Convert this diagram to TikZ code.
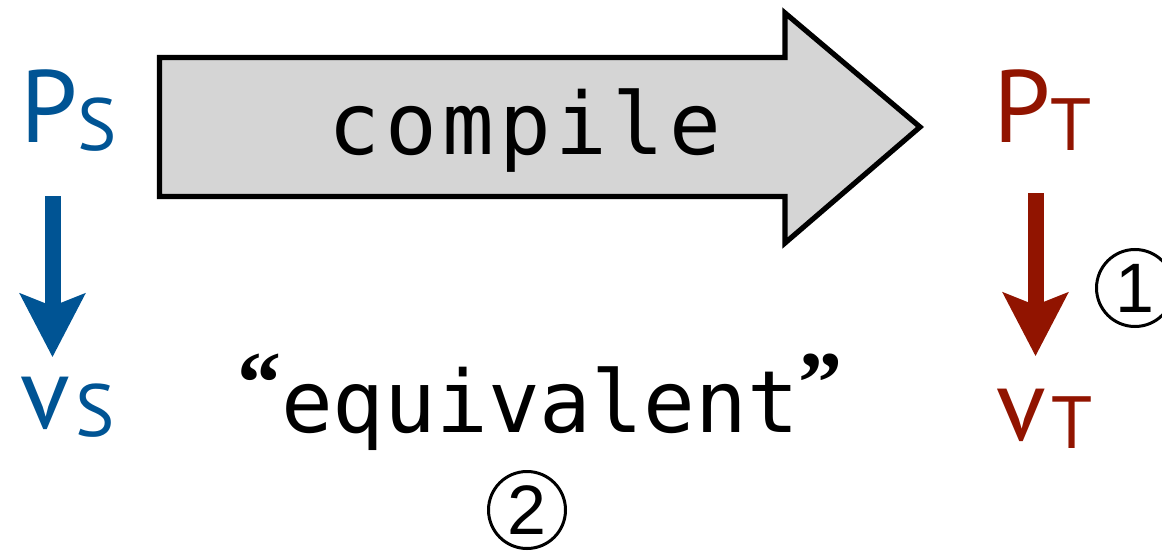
\documentclass[tikz,border=0pt]{standalone}
\usepackage{fontspec}
\setmainfont{PT Sans}
\newfontfamily\codefont{DejaVu Sans Mono}
\newfontfamily\quotefont{Liberation Serif}[UprightFont=*-Bold]
\newfontfamily\digitfont{Liberation Sans}
\usetikzlibrary{arrows.meta}

\definecolor{srcblue}{RGB}{0,84,148}
\definecolor{tgtred}{RGB}{145,20,0}
\definecolor{boxgray}{RGB}{213,213,213}

% program / value label with a lowered small subscript letter
\newcommand{\pvlabel}[3]{#1\kern#2\raisebox{-4pt}{\fontsize{37}{37}\selectfont #3}}
% curly quote in a heavier face
\newcommand{\bigquote}[1]{{\quotefont\fontsize{44}{44}\selectfont\raisebox{10pt}{#1}}}

\tikzset{
  varlabel/.style={inner sep=0pt, anchor=base west, font=\fontsize{51.4}{60}\selectfont},
  codetext/.style={inner sep=0pt, anchor=base, font=\codefont\fontsize{43}{50}\selectfont},
  circmark/.style={circle, draw=black, line width=1.5pt, minimum size=38.5pt,
    inner sep=0pt, font=\digitfont\fontsize{35}{35}\selectfont},
  evalarrow/.style={line width=8pt,
    -{Stealth[length=31.5pt, width=32pt, inset=6pt]}},
  bigarrow/.style={draw=black, fill=boxgray, line width=2.6pt, line join=miter},
}

\begin{document}
\begin{tikzpicture}[x=0.5pt, y=-0.5pt]
\useasboundingbox (0,0) rectangle (1162,551);

% compilation arrow
\draw[bigarrow] (159.5,57.5) -- (785,57.5) -- (785,13) -- (920,127)
  -- (785,243) -- (785,196.5) -- (159.5,196.5) -- cycle;
\node[codetext] (compile) at (525,155) {\addfontfeature{LetterSpace=6}compile};

% source side
\node[varlabel, text=srcblue] (Ps) at (20,142) {\pvlabel{P}{0pt}{S}};
\node[varlabel, text=srcblue] (vs) at (20,428) {\pvlabel{v}{3pt}{S}};
\coordinate (sx) at (52.5,0);
\draw[evalarrow, srcblue, shorten <=22.5pt, shorten >=9.5pt] (Ps.south -| sx) -- (vs.north -| sx);

% target side
\node[varlabel, text=tgtred] (Pt) at (993,142) {\pvlabel{P}{0pt}{T}};
\node[varlabel, text=tgtred] (vt) at (996,440) {\pvlabel{v}{3pt}{T}};
\coordinate (tx) at (1035.5,0);
\draw[evalarrow, tgtred, shorten <=21.5pt, shorten >=16pt] (Pt.south -| tx) -- (vt.north -| tx);

% equivalence claim and step markers
\node[codetext] (equiv) at (540,432) {\bigquote{“}equivalent\bigquote{”}};
\node[circmark] (m1) at (1135,288) {1};
\node[circmark] (m2) at (527,510) {2};
\end{tikzpicture}
\end{document}
